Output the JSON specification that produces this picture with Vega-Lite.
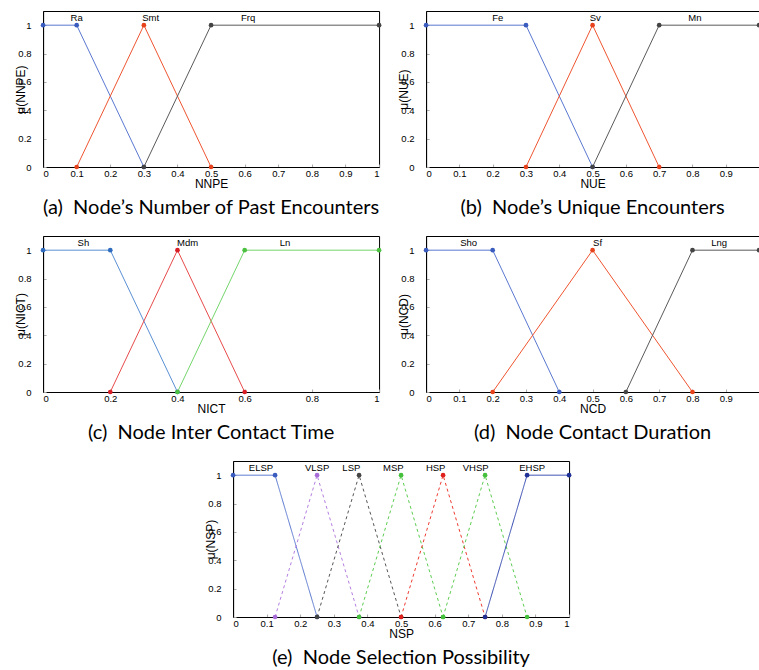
{
  "$schema": "https://vega.github.io/schema/vega-lite/v6.json",
  "background": "white",
  "padding": {"left": 14, "top": 10, "right": 0, "bottom": 0},
  "center": true,
  "spacing": 17,
  "resolve": {"scale": {"color": "independent", "fill": "independent", "strokeDash": "independent", "x": "independent", "y": "independent"}},
  "config": {
    "view": {"stroke": "black", "strokeWidth": 1},
    "axis": {"grid": false, "domainColor": "black", "ticks": true, "tickSize": -3, "tickColor": "#aaaaaa", "labelFont": "Liberation Sans", "labelFontSize": 9.5, "labelColor": "black", "titleFont": "Liberation Sans", "titleFontSize": 12, "titleFontWeight": "normal", "titleColor": "black", "format": "~g"},
    "axisX": {"titlePadding": 1, "labelPadding": 4},
    "axisY": {"titlePadding": -10, "labelPadding": 15, "values": [0, 0.2, 0.4, 0.6, 0.8, 1]},
    "title": {"orient": "bottom", "font": "Lato", "fontSize": 20, "fontWeight": "normal", "color": "black", "offset": 8},
    "line": {"strokeWidth": 1},
    "point": {"filled": true, "size": 22, "opacity": 1}
  },
  "datasets": {
    "a": [
      {"s": "Ra", "x": 0, "y": 1}, {"s": "Ra", "x": 0.1, "y": 1}, {"s": "Ra", "x": 0.3, "y": 0},
      {"s": "Smt", "x": 0.1, "y": 0}, {"s": "Smt", "x": 0.3, "y": 1}, {"s": "Smt", "x": 0.5, "y": 0},
      {"s": "Frq", "x": 0.3, "y": 0}, {"s": "Frq", "x": 0.5, "y": 1}, {"s": "Frq", "x": 1, "y": 1}
    ],
    "aL": [{"s": "Ra", "x": 0.1, "y": 1.05}, {"s": "Smt", "x": 0.32, "y": 1.05}, {"s": "Frq", "x": 0.61, "y": 1.05}],
    "b": [
      {"s": "Fe", "x": 0, "y": 1}, {"s": "Fe", "x": 0.3, "y": 1}, {"s": "Fe", "x": 0.5, "y": 0},
      {"s": "Sv", "x": 0.3, "y": 0}, {"s": "Sv", "x": 0.5, "y": 1}, {"s": "Sv", "x": 0.7, "y": 0},
      {"s": "Mn", "x": 0.5, "y": 0}, {"s": "Mn", "x": 0.7, "y": 1}, {"s": "Mn", "x": 1, "y": 1}
    ],
    "bL": [{"s": "Fe", "x": 0.215, "y": 1.05}, {"s": "Sv", "x": 0.508, "y": 1.05}, {"s": "Mn", "x": 0.807, "y": 1.05}],
    "c": [
      {"s": "Sh", "x": 0, "y": 1}, {"s": "Sh", "x": 0.2, "y": 1}, {"s": "Sh", "x": 0.4, "y": 0},
      {"s": "Mdm", "x": 0.2, "y": 0}, {"s": "Mdm", "x": 0.4, "y": 1}, {"s": "Mdm", "x": 0.6, "y": 0},
      {"s": "Ln", "x": 0.4, "y": 0}, {"s": "Ln", "x": 0.6, "y": 1}, {"s": "Ln", "x": 1, "y": 1}
    ],
    "cL": [{"s": "Sh", "x": 0.12, "y": 1.05}, {"s": "Mdm", "x": 0.43, "y": 1.05}, {"s": "Ln", "x": 0.72, "y": 1.05}],
    "d": [
      {"s": "Sho", "x": 0, "y": 1}, {"s": "Sho", "x": 0.2, "y": 1}, {"s": "Sho", "x": 0.4, "y": 0},
      {"s": "Sf", "x": 0.2, "y": 0}, {"s": "Sf", "x": 0.5, "y": 1}, {"s": "Sf", "x": 0.8, "y": 0},
      {"s": "Lng", "x": 0.6, "y": 0}, {"s": "Lng", "x": 0.8, "y": 1}, {"s": "Lng", "x": 1, "y": 1}
    ],
    "dL": [{"s": "Sho", "x": 0.128, "y": 1.05}, {"s": "Sf", "x": 0.515, "y": 1.05}, {"s": "Lng", "x": 0.88, "y": 1.05}],
    "e": [
      {"s": "ELSP", "x": 0, "y": 1}, {"s": "ELSP", "x": 0.125, "y": 1}, {"s": "ELSP", "x": 0.25, "y": 0},
      {"s": "VLSP", "x": 0.125, "y": 0}, {"s": "VLSP", "x": 0.25, "y": 1}, {"s": "VLSP", "x": 0.375, "y": 0},
      {"s": "LSP", "x": 0.25, "y": 0}, {"s": "LSP", "x": 0.375, "y": 1}, {"s": "LSP", "x": 0.5, "y": 0},
      {"s": "MSP", "x": 0.375, "y": 0}, {"s": "MSP", "x": 0.5, "y": 1}, {"s": "MSP", "x": 0.625, "y": 0},
      {"s": "HSP", "x": 0.5, "y": 0}, {"s": "HSP", "x": 0.625, "y": 1}, {"s": "HSP", "x": 0.75, "y": 0},
      {"s": "VHSP", "x": 0.625, "y": 0}, {"s": "VHSP", "x": 0.75, "y": 1}, {"s": "VHSP", "x": 0.875, "y": 0},
      {"s": "EHSP", "x": 0.75, "y": 0}, {"s": "EHSP", "x": 0.875, "y": 1}, {"s": "EHSP", "x": 1, "y": 1}
    ],
    "eL": [{"s": "ELSP", "x": 0.083, "y": 1.05}, {"s": "VLSP", "x": 0.25, "y": 1.05}, {"s": "LSP", "x": 0.352, "y": 1.05}, {"s": "MSP", "x": 0.477, "y": 1.05}, {"s": "HSP", "x": 0.603, "y": 1.05}, {"s": "VHSP", "x": 0.722, "y": 1.05}, {"s": "EHSP", "x": 0.89, "y": 1.05}]
  },
  "vconcat": [
    {
      "bounds": "flush",
      "spacing": 47,
      "resolve": {"scale": {"color": "independent", "fill": "independent", "x": "independent", "y": "independent"}},
      "hconcat": [
        {
          "width": 336, "height": 156,
          "title": "(a)\u00a0 Node’s Number of Past Encounters",
          "encoding": {
            "x": {"field": "x", "type": "quantitative", "scale": {"domain": [0, 1], "nice": false}, "axis": {"title": "NNPE", "values": [0, 0.1, 0.2, 0.3, 0.4, 0.5, 0.6, 0.7, 0.8, 0.9, 1]}},
            "y": {"field": "y", "type": "quantitative", "scale": {"domain": [0, 1.1], "nice": false}, "axis": {"title": "μ(NNPE)"}}
          },
          "layer": [
            {"data": {"name": "a"}, "mark": "line", "encoding": {"color": {"field": "s", "type": "nominal", "legend": null, "scale": {"domain": ["Ra", "Smt", "Frq"], "range": ["#5a78d0", "#ef5530", "#5a5a5a"]}}}},
            {"data": {"name": "a"}, "mark": "point", "encoding": {"fill": {"field": "s", "type": "nominal", "legend": null, "scale": {"domain": ["Ra", "Smt", "Frq"], "range": ["#3a5cbf", "#e8421c", "#444444"]}}}},
            {"data": {"name": "aL"}, "mark": {"type": "text", "font": "Liberation Sans", "fontSize": 9.5, "color": "black"}, "encoding": {"text": {"field": "s", "type": "nominal"}}}
          ]
        },
        {
          "width": 333, "height": 156,
          "title": "(b)\u00a0 Node’s Unique Encounters",
          "encoding": {
            "x": {"field": "x", "type": "quantitative", "scale": {"domain": [0, 1], "nice": false}, "axis": {"title": "NUE", "values": [0, 0.1, 0.2, 0.3, 0.4, 0.5, 0.6, 0.7, 0.8, 0.9, 1], "labelExpr": "datum.value == 1 ? '' : datum.label"}},
            "y": {"field": "y", "type": "quantitative", "scale": {"domain": [0, 1.1], "nice": false}, "axis": {"title": "μ(NUE)"}}
          },
          "layer": [
            {"data": {"name": "b"}, "mark": "line", "encoding": {"color": {"field": "s", "type": "nominal", "legend": null, "scale": {"domain": ["Fe", "Sv", "Mn"], "range": ["#5a78d0", "#ef5530", "#5a5a5a"]}}}},
            {"data": {"name": "b"}, "mark": "point", "encoding": {"fill": {"field": "s", "type": "nominal", "legend": null, "scale": {"domain": ["Fe", "Sv", "Mn"], "range": ["#3a5cbf", "#e8421c", "#444444"]}}}},
            {"data": {"name": "bL"}, "mark": {"type": "text", "font": "Liberation Sans", "fontSize": 9.5, "color": "black"}, "encoding": {"text": {"field": "s", "type": "nominal"}}}
          ]
        }
      ]
    },
    {
      "bounds": "flush",
      "spacing": 47,
      "resolve": {"scale": {"color": "independent", "fill": "independent", "x": "independent", "y": "independent"}},
      "hconcat": [
        {
          "width": 336, "height": 156,
          "title": "(c)\u00a0 Node Inter Contact Time",
          "encoding": {
            "x": {"field": "x", "type": "quantitative", "scale": {"domain": [0, 1], "nice": false}, "axis": {"title": "NICT", "values": [0, 0.2, 0.4, 0.6, 0.8, 1]}},
            "y": {"field": "y", "type": "quantitative", "scale": {"domain": [0, 1.1], "nice": false}, "axis": {"title": "μ(NICT)"}}
          },
          "layer": [
            {"data": {"name": "c"}, "mark": "line", "encoding": {"color": {"field": "s", "type": "nominal", "legend": null, "scale": {"domain": ["Sh", "Mdm", "Ln"], "range": ["#5a90d4", "#e84a4a", "#74d66c"]}}}},
            {"data": {"name": "c"}, "mark": "point", "encoding": {"fill": {"field": "s", "type": "nominal", "legend": null, "scale": {"domain": ["Sh", "Mdm", "Ln"], "range": ["#2f6cbf", "#d91f26", "#4cc040"]}}}},
            {"data": {"name": "cL"}, "mark": {"type": "text", "font": "Liberation Sans", "fontSize": 9.5, "color": "black"}, "encoding": {"text": {"field": "s", "type": "nominal"}}}
          ]
        },
        {
          "width": 333, "height": 156,
          "title": "(d)\u00a0 Node Contact Duration",
          "encoding": {
            "x": {"field": "x", "type": "quantitative", "scale": {"domain": [0, 1], "nice": false}, "axis": {"title": "NCD", "values": [0, 0.1, 0.2, 0.3, 0.4, 0.5, 0.6, 0.7, 0.8, 0.9, 1], "labelExpr": "datum.value == 1 ? '' : datum.label"}},
            "y": {"field": "y", "type": "quantitative", "scale": {"domain": [0, 1.1], "nice": false}, "axis": {"title": "μ(NCD)"}}
          },
          "layer": [
            {"data": {"name": "d"}, "mark": "line", "encoding": {"color": {"field": "s", "type": "nominal", "legend": null, "scale": {"domain": ["Sho", "Sf", "Lng"], "range": ["#5a78d0", "#ef5530", "#5a5a5a"]}}}},
            {"data": {"name": "d"}, "mark": "point", "encoding": {"fill": {"field": "s", "type": "nominal", "legend": null, "scale": {"domain": ["Sho", "Sf", "Lng"], "range": ["#3a5cbf", "#e8421c", "#444444"]}}}},
            {"data": {"name": "dL"}, "mark": {"type": "text", "font": "Liberation Sans", "fontSize": 9.5, "color": "black"}, "encoding": {"text": {"field": "s", "type": "nominal"}}}
          ]
        }
      ]
    },
    {
      "width": 336, "height": 156,
      "title": "(e)\u00a0 Node Selection Possibility",
      "encoding": {
        "x": {"field": "x", "type": "quantitative", "scale": {"domain": [0, 1], "nice": false}, "axis": {"title": "NSP", "values": [0, 0.1, 0.2, 0.3, 0.4, 0.5, 0.6, 0.7, 0.8, 0.9, 1]}},
        "y": {"field": "y", "type": "quantitative", "scale": {"domain": [0, 1.1], "nice": false}, "axis": {"title": "μ(NSP)"}}
      },
      "layer": [
        {"data": {"name": "e"}, "mark": "line", "encoding": {
          "color": {"field": "s", "type": "nominal", "legend": null, "scale": {"domain": ["ELSP", "VLSP", "LSP", "MSP", "HSP", "VHSP", "EHSP"], "range": ["#5a78d0", "#b47ee0", "#555555", "#5ccc50", "#ee3a30", "#5ccc50", "#3348b0"]}},
          "strokeDash": {"field": "s", "type": "nominal", "legend": null, "scale": {"domain": ["ELSP", "VLSP", "LSP", "MSP", "HSP", "VHSP", "EHSP"], "range": [[1, 0], [3, 3], [3, 3], [3, 3], [3, 3], [3, 3], [1, 0]]}}
        }},
        {"data": {"name": "e"}, "mark": "point", "encoding": {"fill": {"field": "s", "type": "nominal", "legend": null, "scale": {"domain": ["ELSP", "VLSP", "LSP", "MSP", "HSP", "VHSP", "EHSP"], "range": ["#3a5cbf", "#a86cd8", "#444444", "#44c03c", "#e0201c", "#44c03c", "#1f3196"]}}}},
        {"data": {"name": "eL"}, "mark": {"type": "text", "font": "Liberation Sans", "fontSize": 9.5, "color": "black"}, "encoding": {"text": {"field": "s", "type": "nominal"}}}
      ]
    }
  ]
}
